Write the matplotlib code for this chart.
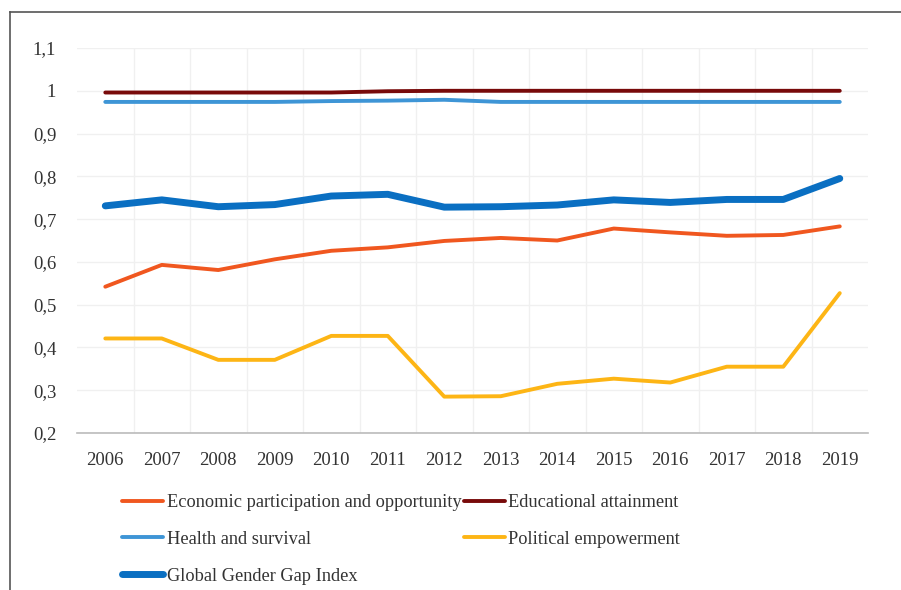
import matplotlib.pyplot as plt
from matplotlib.lines import Line2D

years = ['2006', '2007', '2008', '2009', '2010', '2011', '2012',
         '2013', '2014', '2015', '2016', '2017', '2018', '2019']

economic = [0.542, 0.593, 0.581, 0.606, 0.626, 0.634, 0.649,
            0.656, 0.650, 0.678, 0.669, 0.661, 0.663, 0.683]
education = [0.996, 0.996, 0.996, 0.996, 0.996, 0.999, 1.000,
             1.000, 1.000, 1.000, 1.000, 1.000, 1.000, 1.000]
health = [0.974, 0.974, 0.974, 0.974, 0.976, 0.977, 0.979,
          0.974, 0.974, 0.974, 0.974, 0.974, 0.974, 0.974]
political = [0.421, 0.421, 0.371, 0.371, 0.427, 0.427, 0.285,
             0.286, 0.315, 0.327, 0.318, 0.355, 0.355, 0.527]
ggi = [0.731, 0.745, 0.729, 0.734, 0.754, 0.758, 0.728,
       0.729, 0.733, 0.745, 0.739, 0.746, 0.746, 0.795]

y_ticks = [0.2, 0.3, 0.4, 0.5, 0.6, 0.7, 0.8, 0.9, 1.0, 1.1]
y_labels = ['0,2', '0,3', '0,4', '0,5', '0,6', '0,7', '0,8', '0,9', '1', '1,1']

plt.rcParams['font.family'] = ['Liberation Serif', 'DejaVu Serif']
txt = '#333333'

fig = plt.figure(figsize=(9.01, 5.90), dpi=100)
ax = fig.add_axes([0.0855, 0.2661, 0.8779, 0.6525])

x = range(len(years))
l_eco, = ax.plot(x, economic, color='#F0571F', lw=2.8, solid_capstyle='round')
l_edu, = ax.plot(x, education, color='#780A0A', lw=2.8, solid_capstyle='round')
l_hea, = ax.plot(x, health, color='#3E95D6', lw=2.8, solid_capstyle='round')
l_pol, = ax.plot(x, political, color='#FDB515', lw=2.8, solid_capstyle='round')
l_ggi, = ax.plot(x, ggi, color='#0A6FC2', lw=5, solid_capstyle='round')

ax.set_xlim(-0.5, len(years) - 0.5)
ax.set_ylim(0.2, 1.1)
ax.set_xticks(list(x))
ax.set_xticklabels(years)
ax.set_yticks(y_ticks)
ax.set_yticklabels(y_labels)
ax.set_xticks([i + 0.5 for i in range(len(years) - 1)], minor=True)
ax.tick_params(axis='both', which='both', length=0, labelsize=13.5, colors=txt)
ax.tick_params(axis='x', pad=14)
ax.tick_params(axis='y', pad=15)
ax.grid(True, axis='y', color='#F0F0F0', lw=1)
ax.grid(True, axis='x', which='minor', color='#F0F0F0', lw=1)
for s in ['top', 'right', 'left']:
    ax.spines[s].set_visible(False)
ax.spines['bottom'].set_color('#BBBBBB')
ax.spines['bottom'].set_linewidth(1.2)

# legend: matplotlib fills columns first
handles = [l_eco, l_hea, l_ggi, l_edu, l_pol]
labels = ['Economic participation and opportunity', 'Health and survival',
          'Global Gender Gap Index', 'Educational attainment',
          'Political empowerment']
fig.legend(handles, labels, ncol=2, loc='upper left',
           bbox_to_anchor=(122 / 901, 1 - 494 / 590), frameon=False,
           borderpad=0, borderaxespad=0, handlelength=2.25,
           handletextpad=0.2, columnspacing=0.1, labelspacing=1.08,
           fontsize=13.2, labelcolor=txt)

# outer frame (only left and top edges show)
fig.add_artist(Line2D([10 / 901, 10 / 901], [0, 1 - 12 / 590], color='#555555', lw=1.2))
fig.add_artist(Line2D([10 / 901, 1], [1 - 12 / 590, 1 - 12 / 590], color='#555555', lw=1.2))

fig.savefig('out.png', dpi=100)
